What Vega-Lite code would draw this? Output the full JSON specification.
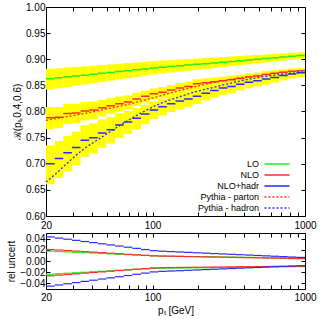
{
  "$schema": "https://vega.github.io/schema/vega-lite/v6.json",
  "background": "white",
  "padding": {"left": 6, "top": 1, "right": 4, "bottom": 1},
  "spacing": 1,
  "config": {
    "font": "Liberation Sans",
    "view": {"stroke": "#000", "strokeWidth": 1},
    "axis": {"labelFont": "Liberation Sans", "titleFont": "Liberation Sans", "labelFontSize": 10, "titleFontSize": 10, "titleFontWeight": "normal", "labelColor": "#000", "titleColor": "#000", "tickColor": "#000", "domain": false, "grid": false, "tickSize": -4, "labelPadding": 5},
    "axisX": {"labelPadding": 8},
    "legend": {"labelFont": "Liberation Sans", "labelColor": "#000"}
  },
  "datasets": {
    "bins": [
      {"s":"LO","lo":20,"hi":22.79,"v":0.8628,"b1":0.8422,"b2":0.8816,"u":0.0176,"d":-0.0236},
      {"s":"LO","lo":22.79,"hi":25.96,"v":0.8646,"b1":0.8447,"b2":0.8829,"u":0.0169,"d":-0.0227},
      {"s":"LO","lo":25.96,"hi":29.57,"v":0.8663,"b1":0.8471,"b2":0.8841,"u":0.0162,"d":-0.0218},
      {"s":"LO","lo":29.57,"hi":33.69,"v":0.868,"b1":0.8495,"b2":0.8854,"u":0.0155,"d":-0.021},
      {"s":"LO","lo":33.69,"hi":38.39,"v":0.8696,"b1":0.8518,"b2":0.8865,"u":0.0148,"d":-0.0201},
      {"s":"LO","lo":38.39,"hi":43.74,"v":0.8713,"b1":0.8542,"b2":0.8877,"u":0.0141,"d":-0.0192},
      {"s":"LO","lo":43.74,"hi":49.83,"v":0.873,"b1":0.8566,"b2":0.8889,"u":0.0134,"d":-0.0184},
      {"s":"LO","lo":49.83,"hi":56.77,"v":0.8747,"b1":0.859,"b2":0.8902,"u":0.0127,"d":-0.0175},
      {"s":"LO","lo":56.77,"hi":64.67,"v":0.8764,"b1":0.8614,"b2":0.8914,"u":0.012,"d":-0.0167},
      {"s":"LO","lo":64.67,"hi":73.68,"v":0.8781,"b1":0.8638,"b2":0.8926,"u":0.0113,"d":-0.0158},
      {"s":"LO","lo":73.68,"hi":83.95,"v":0.8798,"b1":0.8662,"b2":0.8939,"u":0.0106,"d":-0.0149},
      {"s":"LO","lo":83.95,"hi":95.63,"v":0.8815,"b1":0.8686,"b2":0.8951,"u":0.0099,"d":-0.0141},
      {"s":"LO","lo":95.63,"hi":108.96,"v":0.8832,"b1":0.871,"b2":0.8963,"u":0.0092,"d":-0.0132},
      {"s":"LO","lo":108.96,"hi":124.1,"v":0.8846,"b1":0.8729,"b2":0.8973,"u":0.0088,"d":-0.0129},
      {"s":"LO","lo":124.1,"hi":141.4,"v":0.886,"b1":0.8746,"b2":0.8983,"u":0.0086,"d":-0.0127},
      {"s":"LO","lo":141.4,"hi":161.1,"v":0.8874,"b1":0.8764,"b2":0.8993,"u":0.0084,"d":-0.0125},
      {"s":"LO","lo":161.1,"hi":183.6,"v":0.8888,"b1":0.8781,"b2":0.9003,"u":0.0081,"d":-0.0123},
      {"s":"LO","lo":183.6,"hi":209.1,"v":0.8902,"b1":0.8798,"b2":0.9013,"u":0.0079,"d":-0.0122},
      {"s":"LO","lo":209.1,"hi":238.3,"v":0.8916,"b1":0.8816,"b2":0.9023,"u":0.0077,"d":-0.012},
      {"s":"LO","lo":238.3,"hi":271.5,"v":0.893,"b1":0.8833,"b2":0.9033,"u":0.0074,"d":-0.0118},
      {"s":"LO","lo":271.5,"hi":309.3,"v":0.8944,"b1":0.8851,"b2":0.9043,"u":0.0072,"d":-0.0117},
      {"s":"LO","lo":309.3,"hi":352.3,"v":0.8958,"b1":0.8868,"b2":0.9053,"u":0.007,"d":-0.0115},
      {"s":"LO","lo":352.3,"hi":401.4,"v":0.8972,"b1":0.8886,"b2":0.9063,"u":0.0068,"d":-0.0113},
      {"s":"LO","lo":401.4,"hi":457.3,"v":0.8986,"b1":0.8903,"b2":0.9073,"u":0.0065,"d":-0.0111},
      {"s":"LO","lo":457.3,"hi":521.0,"v":0.9,"b1":0.8921,"b2":0.9083,"u":0.0063,"d":-0.011},
      {"s":"LO","lo":521.0,"hi":593.6,"v":0.9014,"b1":0.8938,"b2":0.9093,"u":0.0061,"d":-0.0108},
      {"s":"LO","lo":593.6,"hi":676.3,"v":0.9028,"b1":0.8956,"b2":0.9102,"u":0.0058,"d":-0.0106},
      {"s":"LO","lo":676.3,"hi":770.5,"v":0.9042,"b1":0.8973,"b2":0.9113,"u":0.0056,"d":-0.0104},
      {"s":"LO","lo":770.5,"hi":877.8,"v":0.9056,"b1":0.899,"b2":0.9123,"u":0.0054,"d":-0.0103},
      {"s":"LO","lo":877.8,"hi":1000,"v":0.907,"b1":0.9008,"b2":0.9132,"u":0.0051,"d":-0.0101},
      {"s":"NLO","lo":20,"hi":22.79,"v":0.788,"b1":0.7664,"b2":0.8086,"u":0.0205,"d":-0.0264},
      {"s":"NLO","lo":22.79,"hi":25.96,"v":0.789,"b1":0.7683,"b2":0.8087,"u":0.0196,"d":-0.0252},
      {"s":"NLO","lo":25.96,"hi":29.57,"v":0.796,"b1":0.7762,"b2":0.8148,"u":0.0186,"d":-0.0241},
      {"s":"NLO","lo":29.57,"hi":33.69,"v":0.797,"b1":0.778,"b2":0.815,"u":0.0177,"d":-0.0229},
      {"s":"NLO","lo":33.69,"hi":38.39,"v":0.801,"b1":0.7829,"b2":0.8181,"u":0.0168,"d":-0.0217},
      {"s":"NLO","lo":38.39,"hi":43.74,"v":0.803,"b1":0.7858,"b2":0.8192,"u":0.0158,"d":-0.0205},
      {"s":"NLO","lo":43.74,"hi":49.83,"v":0.807,"b1":0.7906,"b2":0.8224,"u":0.0149,"d":-0.0194},
      {"s":"NLO","lo":49.83,"hi":56.77,"v":0.811,"b1":0.7955,"b2":0.8255,"u":0.0139,"d":-0.0182},
      {"s":"NLO","lo":56.77,"hi":64.67,"v":0.815,"b1":0.8003,"b2":0.8287,"u":0.013,"d":-0.017},
      {"s":"NLO","lo":64.67,"hi":73.68,"v":0.818,"b1":0.8042,"b2":0.8308,"u":0.012,"d":-0.0158},
      {"s":"NLO","lo":73.68,"hi":83.95,"v":0.824,"b1":0.8111,"b2":0.8359,"u":0.0111,"d":-0.0146},
      {"s":"NLO","lo":83.95,"hi":95.63,"v":0.829,"b1":0.8169,"b2":0.8401,"u":0.0102,"d":-0.0135},
      {"s":"NLO","lo":95.63,"hi":108.96,"v":0.834,"b1":0.8228,"b2":0.8442,"u":0.0092,"d":-0.0123},
      {"s":"NLO","lo":108.96,"hi":124.1,"v":0.837,"b1":0.8262,"b2":0.8468,"u":0.0088,"d":-0.0119},
      {"s":"NLO","lo":124.1,"hi":141.4,"v":0.841,"b1":0.8304,"b2":0.8505,"u":0.0085,"d":-0.0117},
      {"s":"NLO","lo":141.4,"hi":161.1,"v":0.845,"b1":0.8346,"b2":0.8542,"u":0.0082,"d":-0.0115},
      {"s":"NLO","lo":161.1,"hi":183.6,"v":0.848,"b1":0.8379,"b2":0.8569,"u":0.0079,"d":-0.0113},
      {"s":"NLO","lo":183.6,"hi":209.1,"v":0.853,"b1":0.8431,"b2":0.8616,"u":0.0076,"d":-0.0112},
      {"s":"NLO","lo":209.1,"hi":238.3,"v":0.855,"b1":0.8453,"b2":0.8633,"u":0.0073,"d":-0.011},
      {"s":"NLO","lo":238.3,"hi":271.5,"v":0.857,"b1":0.8476,"b2":0.8651,"u":0.0071,"d":-0.0108},
      {"s":"NLO","lo":271.5,"hi":309.3,"v":0.859,"b1":0.8498,"b2":0.8668,"u":0.0068,"d":-0.0107},
      {"s":"NLO","lo":309.3,"hi":352.3,"v":0.861,"b1":0.852,"b2":0.8685,"u":0.0065,"d":-0.0105},
      {"s":"NLO","lo":352.3,"hi":401.4,"v":0.863,"b1":0.8542,"b2":0.8702,"u":0.0062,"d":-0.0103},
      {"s":"NLO","lo":401.4,"hi":457.3,"v":0.866,"b1":0.8575,"b2":0.8729,"u":0.0059,"d":-0.0101},
      {"s":"NLO","lo":457.3,"hi":521.0,"v":0.868,"b1":0.8597,"b2":0.8746,"u":0.0056,"d":-0.01},
      {"s":"NLO","lo":521.0,"hi":593.6,"v":0.871,"b1":0.8629,"b2":0.8773,"u":0.0053,"d":-0.0098},
      {"s":"NLO","lo":593.6,"hi":676.3,"v":0.873,"b1":0.8651,"b2":0.879,"u":0.005,"d":-0.0096},
      {"s":"NLO","lo":676.3,"hi":770.5,"v":0.875,"b1":0.8673,"b2":0.8808,"u":0.0048,"d":-0.0094},
      {"s":"NLO","lo":770.5,"hi":877.8,"v":0.877,"b1":0.8696,"b2":0.8825,"u":0.0045,"d":-0.0093},
      {"s":"NLO","lo":877.8,"hi":1000,"v":0.878,"b1":0.8709,"b2":0.8832,"u":0.0042,"d":-0.0091},
      {"s":"NLO+hadr","lo":20,"hi":22.79,"v":0.7,"b1":0.6609,"b2":0.7352,"u":0.043,"d":-0.0449},
      {"s":"NLO+hadr","lo":22.79,"hi":25.96,"v":0.71,"b1":0.6727,"b2":0.7436,"u":0.0409,"d":-0.0428},
      {"s":"NLO+hadr","lo":25.96,"hi":29.57,"v":0.721,"b1":0.6855,"b2":0.7531,"u":0.0389,"d":-0.0407},
      {"s":"NLO+hadr","lo":29.57,"hi":33.69,"v":0.731,"b1":0.6973,"b2":0.7615,"u":0.0369,"d":-0.0386},
      {"s":"NLO+hadr","lo":33.69,"hi":38.39,"v":0.745,"b1":0.7131,"b2":0.7739,"u":0.0348,"d":-0.0364},
      {"s":"NLO+hadr","lo":38.39,"hi":43.74,"v":0.75,"b1":0.7199,"b2":0.7774,"u":0.0328,"d":-0.0343},
      {"s":"NLO+hadr","lo":43.74,"hi":49.83,"v":0.759,"b1":0.7307,"b2":0.7848,"u":0.0307,"d":-0.0322},
      {"s":"NLO+hadr","lo":49.83,"hi":56.77,"v":0.765,"b1":0.7385,"b2":0.7892,"u":0.0287,"d":-0.0301},
      {"s":"NLO+hadr","lo":56.77,"hi":64.67,"v":0.774,"b1":0.7493,"b2":0.7967,"u":0.0267,"d":-0.028},
      {"s":"NLO+hadr","lo":64.67,"hi":73.68,"v":0.78,"b1":0.7572,"b2":0.8011,"u":0.0246,"d":-0.0259},
      {"s":"NLO+hadr","lo":73.68,"hi":83.95,"v":0.787,"b1":0.766,"b2":0.8065,"u":0.0226,"d":-0.0237},
      {"s":"NLO+hadr","lo":83.95,"hi":95.63,"v":0.795,"b1":0.7758,"b2":0.8129,"u":0.0205,"d":-0.0216},
      {"s":"NLO+hadr","lo":95.63,"hi":108.96,"v":0.803,"b1":0.7856,"b2":0.8194,"u":0.0185,"d":-0.0195},
      {"s":"NLO+hadr","lo":108.96,"hi":124.1,"v":0.809,"b1":0.7924,"b2":0.8246,"u":0.0175,"d":-0.0185},
      {"s":"NLO+hadr","lo":124.1,"hi":141.4,"v":0.815,"b1":0.7989,"b2":0.83,"u":0.0168,"d":-0.0179},
      {"s":"NLO+hadr","lo":141.4,"hi":161.1,"v":0.82,"b1":0.8044,"b2":0.8344,"u":0.0161,"d":-0.0173},
      {"s":"NLO+hadr","lo":161.1,"hi":183.6,"v":0.824,"b1":0.809,"b2":0.8378,"u":0.0154,"d":-0.0166},
      {"s":"NLO+hadr","lo":183.6,"hi":209.1,"v":0.829,"b1":0.8145,"b2":0.8423,"u":0.0147,"d":-0.016},
      {"s":"NLO+hadr","lo":209.1,"hi":238.3,"v":0.835,"b1":0.821,"b2":0.8477,"u":0.014,"d":-0.0153},
      {"s":"NLO+hadr","lo":238.3,"hi":271.5,"v":0.84,"b1":0.8265,"b2":0.8521,"u":0.0133,"d":-0.0147},
      {"s":"NLO+hadr","lo":271.5,"hi":309.3,"v":0.845,"b1":0.832,"b2":0.8566,"u":0.0126,"d":-0.0141},
      {"s":"NLO+hadr","lo":309.3,"hi":352.3,"v":0.848,"b1":0.8355,"b2":0.859,"u":0.0119,"d":-0.0134},
      {"s":"NLO+hadr","lo":352.3,"hi":401.4,"v":0.852,"b1":0.8401,"b2":0.8624,"u":0.0113,"d":-0.0128},
      {"s":"NLO+hadr","lo":401.4,"hi":457.3,"v":0.856,"b1":0.8446,"b2":0.8658,"u":0.0106,"d":-0.0122},
      {"s":"NLO+hadr","lo":457.3,"hi":521.0,"v":0.859,"b1":0.8481,"b2":0.8682,"u":0.0099,"d":-0.0116},
      {"s":"NLO+hadr","lo":521.0,"hi":593.6,"v":0.862,"b1":0.8516,"b2":0.8707,"u":0.0092,"d":-0.0109},
      {"s":"NLO+hadr","lo":593.6,"hi":676.3,"v":0.865,"b1":0.8551,"b2":0.8731,"u":0.0085,"d":-0.0103},
      {"s":"NLO+hadr","lo":676.3,"hi":770.5,"v":0.869,"b1":0.8596,"b2":0.8765,"u":0.0078,"d":-0.0097},
      {"s":"NLO+hadr","lo":770.5,"hi":877.8,"v":0.872,"b1":0.8632,"b2":0.8789,"u":0.0071,"d":-0.009},
      {"s":"NLO+hadr","lo":877.8,"hi":1000,"v":0.874,"b1":0.8657,"b2":0.8804,"u":0.0064,"d":-0.0084}
    ],
    "pythia": [
      {"s":"Pythia - parton","pt":20,"v":0.783},
      {"s":"Pythia - parton","pt":25,"v":0.788},
      {"s":"Pythia - parton","pt":30,"v":0.792},
      {"s":"Pythia - parton","pt":40,"v":0.799},
      {"s":"Pythia - parton","pt":50,"v":0.805},
      {"s":"Pythia - parton","pt":70,"v":0.814},
      {"s":"Pythia - parton","pt":100,"v":0.826},
      {"s":"Pythia - parton","pt":150,"v":0.84},
      {"s":"Pythia - parton","pt":200,"v":0.849},
      {"s":"Pythia - parton","pt":300,"v":0.86},
      {"s":"Pythia - parton","pt":500,"v":0.869},
      {"s":"Pythia - parton","pt":700,"v":0.874},
      {"s":"Pythia - parton","pt":1000,"v":0.878},
      {"s":"Pythia - hadron","pt":20,"v":0.665},
      {"s":"Pythia - hadron","pt":23,"v":0.68},
      {"s":"Pythia - hadron","pt":28,"v":0.703},
      {"s":"Pythia - hadron","pt":35,"v":0.727},
      {"s":"Pythia - hadron","pt":46,"v":0.75},
      {"s":"Pythia - hadron","pt":60,"v":0.772},
      {"s":"Pythia - hadron","pt":76,"v":0.79},
      {"s":"Pythia - hadron","pt":114,"v":0.816},
      {"s":"Pythia - hadron","pt":150,"v":0.828},
      {"s":"Pythia - hadron","pt":187,"v":0.837},
      {"s":"Pythia - hadron","pt":250,"v":0.846},
      {"s":"Pythia - hadron","pt":313,"v":0.853},
      {"s":"Pythia - hadron","pt":400,"v":0.86},
      {"s":"Pythia - hadron","pt":515,"v":0.866},
      {"s":"Pythia - hadron","pt":700,"v":0.871},
      {"s":"Pythia - hadron","pt":1000,"v":0.875}
    ]
  },
  "vconcat": [
    {
      "width": 259,
      "height": 209,
      "layer": [
        {
          "data": {"name": "bins"},
          "mark": {"type": "rect", "color": "#ffff00"},
          "encoding": {
            "x": {"field": "lo", "type": "quantitative", "scale": {"type": "log", "domain": [20, 1000], "nice": false},
                  "axis": {"orient": "bottom", "title": null, "values": [20,30,40,50,60,70,80,90,100,200,300,400,500,600,700,800,900,1000], "labelExpr": "(datum.value==20||datum.value==100||datum.value==1000) ? datum.value : ''", "labelFlush": false, "labelOverlap": false}},
            "x2": {"field": "hi"},
            "y": {"field": "b1", "type": "quantitative", "scale": {"domain": [0.6, 1.0], "nice": false},
                  "axis": {"orient": "left", "title": "ℛ(pₜ,0.4,0.6)", "values": [0.6,0.65,0.7,0.75,0.8,0.85,0.9,0.95,1.0], "format": ".2f", "titlePadding": 3}},
            "y2": {"field": "b2"}
          }
        },
        {
          "data": {"name": "bins"},
          "mark": {"type": "rule", "strokeWidth": 1.5},
          "encoding": {
            "x": {"field": "lo", "type": "quantitative", "axis": null},
            "x2": {"field": "hi"},
            "y": {"field": "v", "type": "quantitative", "axis": null},
            "color": {"field": "s", "type": "nominal",
                      "scale": {"domain": ["LO","NLO","NLO+hadr","Pythia - parton","Pythia - hadron"], "range": ["#22ee22","#ff2a2a","#2a2aff","#ff2a2a","#2a2aff"]},
                      "legend": {"orient": "none", "legendX": 225, "legendY": 151, "title": null, "labelFontSize": 9, "symbolType": "M-2.5,0H2.5", "symbolSize": 100, "symbolStrokeWidth": 1.5, "labelAlign": "right", "labelOffset": -24, "rowPadding": -1.3, "padding": 0,
                                 "encode": {"symbols": {"update": {
                                   "stroke": {"signal": "datum.label=='LO' ? '#22ee22' : (datum.label=='NLO' || datum.label=='Pythia - parton') ? '#ff2a2a' : '#2a2aff'"},
                                   "strokeDash": {"signal": "indexof(datum.label, 'Pythia') >= 0 ? [2,2] : [1,0]"},
                                   "strokeWidth": {"value": 1.5},
                                   "fill": {"value": "transparent"},
                                   "opacity": {"value": 1}}}}}},
            "strokeDash": {"field": "s", "type": "nominal",
                      "scale": {"domain": ["LO","NLO","NLO+hadr","Pythia - parton","Pythia - hadron"], "range": [[1,0],[1,0],[1,0],[2,2],[2,2]]},
                      "legend": null}
          }
        },
        {
          "data": {"name": "pythia"},
          "mark": {"type": "line", "strokeWidth": 1.3, "interpolate": "monotone"},
          "encoding": {
            "x": {"field": "pt", "type": "quantitative", "axis": null},
            "y": {"field": "v", "type": "quantitative", "axis": null},
            "color": {"field": "s", "type": "nominal"},
            "strokeDash": {"field": "s", "type": "nominal"}
          }
        },
        {
          "mark": {"type": "text", "align": "left", "baseline": "middle", "fontSize": 9, "font": "Liberation Sans", "color": "#000"},
          "encoding": {
            "x": {"datum": 26.3, "type": "quantitative", "axis": null},
            "y": {"datum": 0.648, "type": "quantitative", "axis": null},
            "text": {"value": "√s=7 TeV, |y|<2.8"}
          }
        },
        {
          "mark": {"type": "text", "align": "left", "baseline": "middle", "fontSize": 9, "font": "Liberation Sans", "color": "#000"},
          "encoding": {
            "x": {"datum": 26.3, "type": "quantitative", "axis": null},
            "y": {"datum": 0.627, "type": "quantitative", "axis": null},
            "text": {"value": "anti-kₜ, CTEQ6.6"}
          }
        },
        {
          "data": {"name": "bins"},
          "mark": {"type": "rule", "opacity": 0},
          "encoding": {
            "x": {"field": "lo", "type": "quantitative",
                  "axis": {"orient": "top", "title": null, "labels": false, "values": [20,30,40,50,60,70,80,90,100,200,300,400,500,600,700,800,900,1000]}},
            "y": {"field": "v", "type": "quantitative",
                  "axis": {"orient": "right", "title": null, "labels": false, "values": [0.6,0.65,0.7,0.75,0.8,0.85,0.9,0.95,1.0]}}
          }
        }
      ],
      "resolve": {"axis": {"x": "independent", "y": "independent"}}
    },
    {
      "width": 259,
      "height": 56,
      "layer": [
        {
          "data": {"name": "bins"},
          "mark": {"type": "rule", "strokeWidth": 1.2},
          "encoding": {
            "x": {"field": "lo", "type": "quantitative", "scale": {"type": "log", "domain": [20, 1000], "nice": false},
                  "axis": {"orient": "bottom", "title": "pₜ [GeV]", "values": [20,30,40,50,60,70,80,90,100,200,300,400,500,600,700,800,900,1000], "labelExpr": "(datum.value==20||datum.value==100||datum.value==1000) ? datum.value : ''", "labelFlush": false, "labelOverlap": false, "labelPadding": 7, "titlePadding": 3}},
            "x2": {"field": "hi"},
            "y": {"field": "u", "type": "quantitative", "scale": {"domain": [-0.05, 0.05], "nice": false},
                  "axis": {"orient": "left", "title": "rel uncert", "values": [-0.04,-0.02,0,0.02,0.04], "format": ".2f", "titlePadding": 3}},
            "color": {"field": "s", "type": "nominal", "scale": {"domain": ["LO","NLO","NLO+hadr"], "range": ["#22ee22","#ff2a2a","#2a2aff"]}, "legend": null}
          }
        },
        {
          "data": {"name": "bins"},
          "mark": {"type": "rule", "strokeWidth": 1.2},
          "encoding": {
            "x": {"field": "lo", "type": "quantitative", "axis": null},
            "x2": {"field": "hi"},
            "y": {"field": "d", "type": "quantitative", "axis": null},
            "color": {"field": "s", "type": "nominal", "legend": null}
          }
        },
        {
          "mark": {"type": "rule", "color": "#999999", "strokeDash": [2, 3], "strokeWidth": 1},
          "encoding": {
            "y": {"datum": 0, "type": "quantitative", "axis": null}
          }
        },
        {
          "data": {"name": "bins"},
          "mark": {"type": "rule", "opacity": 0},
          "encoding": {
            "x": {"field": "lo", "type": "quantitative",
                  "axis": {"orient": "top", "title": null, "labels": false, "values": [20,30,40,50,60,70,80,90,100,200,300,400,500,600,700,800,900,1000]}},
            "y": {"field": "u", "type": "quantitative",
                  "axis": {"orient": "right", "title": null, "labels": false, "values": [-0.04,-0.02,0,0.02,0.04]}}
          }
        }
      ],
      "resolve": {"axis": {"x": "independent", "y": "independent"}}
    }
  ]
}
